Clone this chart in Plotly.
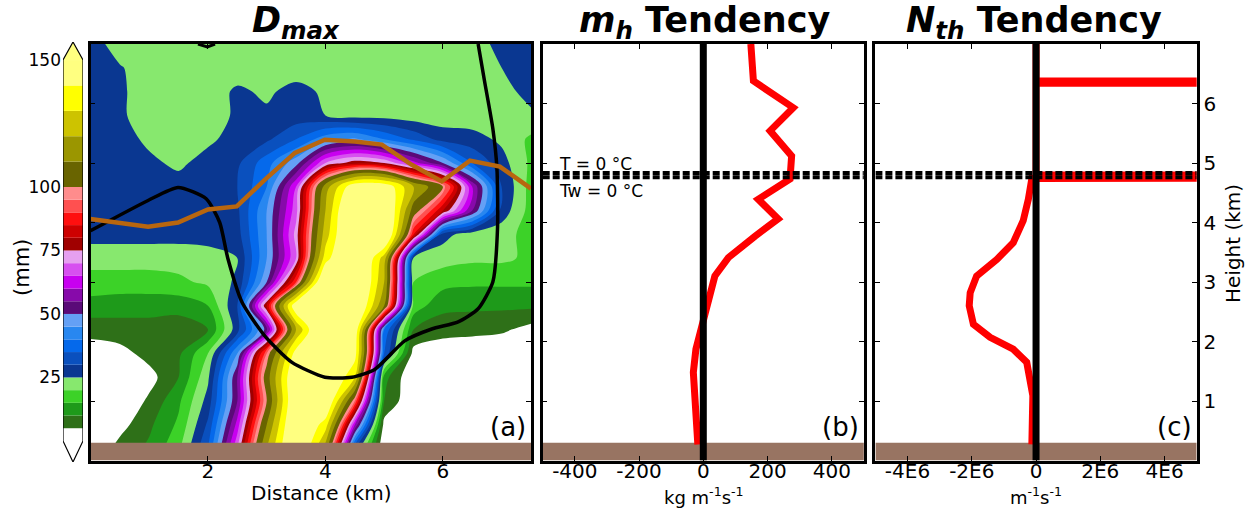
import plotly.graph_objects as go

W, H = 1253, 508
FONT = "DejaVu Sans"

# ---------------- Panel (a): Dmax field (mm) on a distance / height grid
dist_km = [0.0, 0.5, 1.0, 1.5, 2.0, 2.5, 3.0, 3.5, 4.0, 4.5, 5.0, 5.5, 6.0, 6.5, 7.0, 7.5]
grid_height_km = [0.2, 0.6, 1.0, 1.4, 1.8, 2.2, 2.6, 3.0, 3.4, 3.8, 4.2, 4.6,
                  5.0, 5.4, 5.8, 6.2, 6.6, 7.0]
dmax_mm = [
    [0, 7, 11, 19, 35, 70, 120, 160, 115, 30, 0, 0, 0, 0, 0, 0],
    [0, 3, 9, 16, 31, 62, 110, 158, 135, 60, 3, 0, 0, 0, 0, 0],
    [0, 0, 6, 14, 27, 55, 100, 155, 155, 95, 10, 0, 0, 0, 0, 0],
    [0, 0, 3, 10, 24, 55, 105, 155, 160, 130, 12, 0, 0, 0, 0, 0],
    [2, 3, 7, 9, 20, 45, 95, 145, 165, 145, 35, 3, 0, 0, 0, 0],
    [7, 8, 8, 7, 10, 28, 52, 120, 165, 150, 40, 10, 8, 7, 6, 3],
    [13, 12, 12, 12, 15, 30, 80, 150, 165, 160, 110, 18, 11, 11, 11, 11],
    [18, 18, 18, 19, 21, 26, 50, 90, 160, 165, 120, 20, 17, 16, 16, 16],
    [22, 22, 22, 22, 23, 25, 45, 70, 135, 165, 125, 24, 22, 21, 21, 19],
    [27, 27, 27, 27, 27, 28, 45, 72, 125, 165, 160, 85, 27, 22, 22, 18],
    [27, 27, 27, 27, 27, 29, 45, 68, 120, 165, 160, 105, 80, 55, 28, 18],
    [27, 27, 27, 27, 27, 30, 40, 65, 115, 150, 150, 120, 100, 60, 30, 18],
    [27, 27, 26, 24, 27, 29, 38, 48, 70, 78, 75, 62, 50, 35, 27, 19],
    [27, 27, 24, 22, 24, 27, 29, 35, 43, 46, 40, 34, 28, 27, 24, 19],
    [27, 26, 22, 22, 22, 26, 26, 27, 25, 23, 23, 22, 22, 22, 22, 24],
    [28, 26, 22, 22, 22, 26, 24, 27, 24, 22, 22, 22, 22, 22, 23, 27],
    [28, 25.5, 22, 22, 22, 22, 22, 22, 22, 22, 22, 22, 22, 22, 25, 28],
    [28, 22, 22, 22, 22, 22, 22, 22, 22, 22, 22, 22, 22, 22, 27, 29],
]

# filled levels every 5 mm from 5 to 140; one colour per band (below 5 ... above 140)
level_first, level_last, level_step = 5, 140, 5
band_colors = [
    "#ffffff",                                              # < 5
    "#2e7018", "#1e9a1a", "#3cd228", "#87e86e",             # 5 - 25
    "#0a3791", "#0a50be", "#0569eb", "#2887f0", "#64a0f5",  # 25 - 50
    "#5a0a78", "#870aaa", "#c800f0", "#d750f0", "#e6a0f0",  # 50 - 75
    "#a00000", "#cd0000", "#ff0f0f", "#ff5050", "#ff8c8c",  # 75 - 100
    "#696400", "#696400", "#9b9600", "#9b9600",             # 100 - 120
    "#cdc300", "#cdc300", "#ffff00", "#ffff00",             # 120 - 140
    "#ffff80",                                              # > 140
]

# colour bar bins (mm) and labelled values
cb_edges = [0, 5, 10, 15, 20, 25, 30, 35, 40, 45, 50, 55, 60, 65, 70, 75, 80, 85,
            90, 95, 100, 110, 120, 130, 140, 150]
cb_ticks = [25, 50, 75, 100, 150]

# black outline contour and orange height line in panel (a)
outline_x = [0.0, 0.98, 1.49, 1.97, 2.2, 2.34, 2.58, 2.97, 3.43, 3.99, 4.45, 4.84,
             5.35, 5.81, 6.26, 6.6, 6.85, 6.93, 6.92, 6.85, 6.71, 6.6]
outline_y = [3.86, 4.37, 4.59, 4.4, 4.0, 3.39, 2.66, 2.09, 1.65, 1.40, 1.40, 1.53,
             2.01, 2.21, 2.33, 2.55, 3.0, 3.9, 4.91, 5.58, 6.37, 7.0]
outline_top_x = [1.83, 1.99, 2.12]
outline_top_y = [7.0, 6.95, 7.0]
orange_x = [0.0, 0.98, 1.49, 2.0, 2.49, 2.97, 3.48, 3.99, 4.5, 4.96, 5.47, 5.98,
            6.46, 6.97, 7.5]
orange_y = [4.06, 3.93, 4.0, 4.22, 4.27, 4.72, 5.17, 5.39, 5.36, 5.31, 4.97, 4.69,
            5.04, 4.94, 4.57]

# ---------------- Panel (b): m_h tendency profile (kg m-1 s-1)
mh_height = [7.0, 6.38, 5.93, 5.54, 5.12, 4.73, 4.39, 4.06, 3.77, 3.41, 3.10, 2.6,
             2.26, 1.87, 1.48, 0.86, 0.27]
mh_tend = [148, 156, 280, 208, 275, 270, 171, 233, 161, 78, 36, 14,
           -2, -23, -31, -26, -17]

# ---------------- Panel (c): N_th tendency profile (m-1 s-1)
nth_height = [0.27, 1.09, 1.65, 1.87, 2.07, 2.29, 2.6, 2.82, 3.10, 3.38, 3.66, 4.03,
              4.39, 4.74, 4.77, 4.80, 6.34, 6.36, 6.38, 7.0]
nth_tend = [-0.13e6, -0.10e6, -0.29e6, -0.71e6, -1.43e6, -1.95e6, -2.08e6, -2.05e6,
            -1.85e6, -1.22e6, -0.71e6, -0.40e6, -0.24e6, -0.13e6, 9e7, 0,
            0, 9e7, 0, 0]

t0_height = 4.83      # T = 0 °C
tw0_height = 4.76     # Tw = 0 °C
ground_top = 0.3
height_range = [0, 7.0]
dist_range = [0, 7.5]
mh_range = [-500, 500]
nth_range = [-5e6, 5e6]

GROUND = "#987462"
RED = "#ff0000"

fig = go.Figure()

# ---- panel (a)
n_bands = int((level_last - level_first) / level_step) + 1
colorscale = [[k / n_bands, c] for k, c in enumerate(band_colors)]
fig.add_trace(go.Contour(
    x=dist_km, y=grid_height_km, z=dmax_mm,
    autocontour=False,
    contours=dict(start=level_first, end=level_last, size=level_step, coloring="fill"),
    colorscale=colorscale, showscale=False,
    line=dict(width=0, smoothing=0.9),
    xaxis="x", yaxis="y", hoverinfo="skip",
))
fig.add_trace(go.Scatter(
    x=[dist_range[0], dist_range[1], dist_range[1], dist_range[0]],
    y=[0, 0, ground_top, ground_top], fill="toself", fillcolor=GROUND,
    line=dict(width=0), mode="lines", xaxis="x", yaxis="y", hoverinfo="skip"))
fig.add_trace(go.Scatter(x=outline_x, y=outline_y, mode="lines",
                         line=dict(color="black", width=3.5, shape="spline", smoothing=0.6),
                         xaxis="x", yaxis="y"))
fig.add_trace(go.Scatter(x=outline_top_x, y=outline_top_y, mode="lines",
                         line=dict(color="black", width=3), xaxis="x", yaxis="y"))
fig.add_trace(go.Scatter(x=orange_x, y=orange_y, mode="lines",
                         line=dict(color="#b8660f", width=4.5), xaxis="x", yaxis="y"))


def profile_panel(xa, ya, xr, hs, vals):
    fig.add_trace(go.Scatter(
        x=[xr[0], xr[1], xr[1], xr[0]], y=[0, 0, ground_top, ground_top],
        fill="toself", fillcolor=GROUND, line=dict(width=0), mode="lines",
        xaxis=xa, yaxis=ya, hoverinfo="skip"))
    fig.add_trace(go.Scatter(x=vals, y=hs, mode="lines",
                             line=dict(color=RED, width=7), xaxis=xa, yaxis=ya))
    fig.add_trace(go.Scatter(x=[0, 0], y=height_range, mode="lines",
                             line=dict(color="black", width=7), xaxis=xa, yaxis=ya))
    for h in (t0_height, tw0_height):
        fig.add_trace(go.Scatter(x=xr, y=[h, h], mode="lines",
                                 line=dict(color="black", width=4, dash="7px,3px"),
                                 xaxis=xa, yaxis=ya))


profile_panel("x2", "y2", mh_range, mh_height, mh_tend)
profile_panel("x3", "y3", nth_range, nth_height, nth_tend)

# ---- colour bar for panel (a)
cb_lo = cb_edges[:-1]
cb_w = [b - a for a, b in zip(cb_edges[:-1], cb_edges[1:])]
cb_col = [band_colors[int(lo // level_step)] for lo in cb_lo]
cb_over = 157.1
cb_under = -8.3
fig.add_trace(go.Bar(x=[0] * len(cb_lo), y=cb_w, base=cb_lo, width=1,
                     marker=dict(color=cb_col, line=dict(width=0)),
                     xaxis="x4", yaxis="y4", hoverinfo="skip"))
fig.add_trace(go.Scatter(x=[-0.5, 0.5, 0, -0.5], y=[cb_edges[-1], cb_edges[-1], cb_over, cb_edges[-1]],
                         fill="toself", fillcolor=band_colors[-1], mode="lines",
                         line=dict(width=0), xaxis="x4", yaxis="y4"))
fig.add_trace(go.Scatter(x=[-0.5, 0.5, 0, -0.5], y=[cb_edges[0], cb_edges[0], cb_under, cb_edges[0]],
                         fill="toself", fillcolor=band_colors[0], mode="lines",
                         line=dict(width=0), xaxis="x4", yaxis="y4"))
fig.add_trace(go.Scatter(x=[-0.5, -0.5, 0, 0.5, 0.5, 0, -0.5],
                         y=[cb_edges[0], cb_edges[-1], cb_over, cb_edges[-1], cb_edges[0], cb_under, cb_edges[0]],
                         mode="lines", line=dict(color="black", width=1.2),
                         xaxis="x4", yaxis="y4"))

# ---- axes
y_dom = [1 - 460.5 / H, 1 - 44 / H]
frame = dict(showline=True, linecolor="black", linewidth=2.5, mirror="ticks",
             ticks="inside", ticklen=5, tickwidth=1, tickcolor="black",
             showgrid=False, zeroline=False, automargin=False,
             tickfont=dict(family=FONT, size=20, color="black"))
xframe = dict(frame, ticklabelstandoff=-9)
yticks = [1, 2, 3, 4, 5, 6]

fig.update_layout(
    width=W, height=H, margin=dict(l=0, r=0, t=0, b=0),
    paper_bgcolor="white", plot_bgcolor="white", showlegend=False,
    font=dict(family=FONT, color="black"),
    xaxis=dict(domain=[90.5 / W, 531 / W], range=dist_range, tickvals=[2, 4, 6],
               anchor="y", **xframe),
    yaxis=dict(domain=y_dom, range=height_range, tickvals=yticks,
               showticklabels=False, anchor="x", **frame),
    xaxis2=dict(domain=[542.7 / W, 863.9 / W], range=mh_range,
                tickvals=[-400, -200, 0, 200, 400],
                ticktext=["-400", "-200", "0", "200", "400"], anchor="y2", **xframe),
    yaxis2=dict(domain=y_dom, range=height_range, tickvals=yticks,
                showticklabels=False, anchor="x2", **frame),
    xaxis3=dict(domain=[875.4 / W, 1196.7 / W], range=nth_range,
                tickvals=[-4e6, -2e6, 0, 2e6, 4e6],
                ticktext=["-4E6", "-2E6", "0", "2E6", "4E6"], anchor="y3", **xframe),
    yaxis3=dict(domain=y_dom, range=height_range, tickvals=yticks,
                side="right", anchor="x3", **frame),
    xaxis4=dict(domain=[63 / W, 83 / W], range=[-0.5, 0.5], visible=False,
                anchor="y4", fixedrange=True),
    yaxis4=dict(domain=[1 - 462 / H, 1 - 42 / H], range=[cb_under, cb_over],
                tickvals=cb_ticks, side="left", anchor="x4", showgrid=False,
                zeroline=False, showline=False, ticks="", automargin=False,
                ticklabelstandoff=1,
                tickfont=dict(family=FONT, size=17, color="black")),
)


def note(text, px, py, size, xanchor="center", **kw):
    fig.add_annotation(text=text, x=px / W, y=1 - py / H, xref="paper", yref="paper",
                       xanchor=xanchor, yanchor="middle", showarrow=False,
                       font=dict(family=FONT, size=size, color="black"), **kw)


# panel titles
note("<b><i>D<sub>max</sub></i></b>", 296, 22, 35)
note("<b><i>m<sub>h</sub></i> Tendency</b>", 704, 22, 35)
note("<b><i>N<sub>th</sub></i> Tendency</b>", 1034, 22, 35)

# axis titles
note("Distance (km)", 321, 493, 20)
note("kg m<sup>-1</sup>s<sup>-1</sup>", 704, 496, 18)
note("m<sup>-1</sup>s<sup>-1</sup>", 1036, 496, 18)
note("Height (km)", 1233, 244, 20, textangle=-90)
note("(mm)", 22, 268, 21, textangle=-90)

# panel letters
note("(a)", 528, 427, 26, xanchor="right")
note("(b)", 861, 427, 26, xanchor="right")
note("(c)", 1194, 427, 26, xanchor="right")

# freezing level labels
note("T = 0 °C", 557, 164, 17, xanchor="left")
note("Tw = 0 °C", 557, 191, 17, xanchor="left")

fig.write_html("out.html")
